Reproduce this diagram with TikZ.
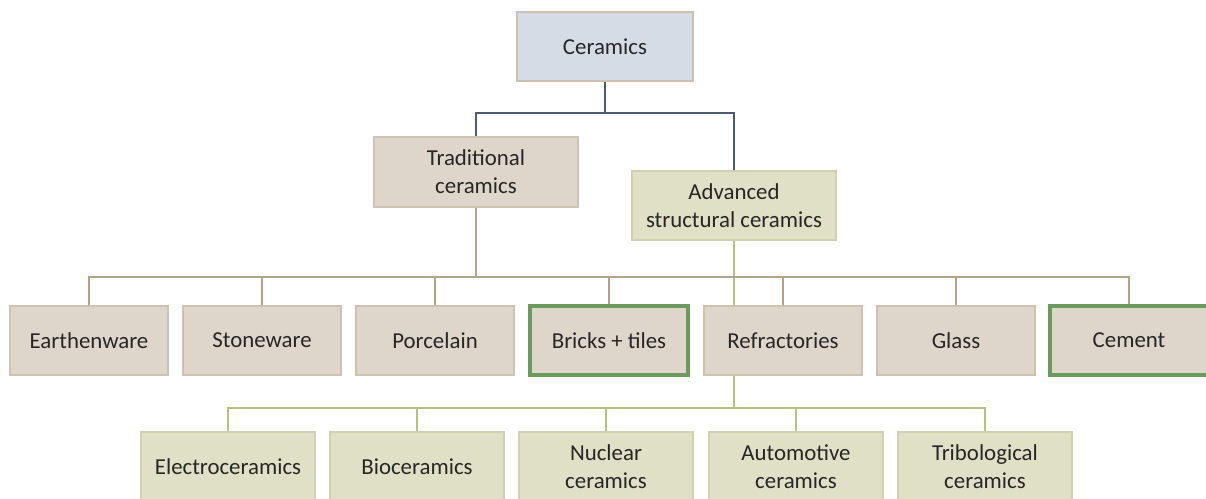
\documentclass[tikz,border=0pt]{standalone}
\usepackage{fontspec}
\setmainfont{Carlito}
\usetikzlibrary{backgrounds}
\definecolor{bluegrey}{HTML}{D6DCE5}
\definecolor{tanfill}{HTML}{DFD6CB}
\definecolor{tanline}{HTML}{CFC1AF}
\definecolor{olivefill}{HTML}{DFE0C6}
\definecolor{oliveline}{HTML}{D0D1AE}
\definecolor{darkline}{HTML}{4B5A77}
\definecolor{brownline}{HTML}{B5A28A}
\definecolor{greenline}{HTML}{B7C27E}
\definecolor{boldgreen}{HTML}{6B9B5C}

\begin{document}
\begin{tikzpicture}[x=0.02cm,y=-0.02cm,
  font=\fontsize{13}{16}\selectfont,
  box/.style={draw=tanline,line width=1pt,align=center,inner sep=0pt,text=black!85},
  topbox/.style={box,fill=bluegrey,minimum width=3.52cm,minimum height=1.38cm},
  tradbox/.style={box,fill=tanfill,minimum width=4.08cm,minimum height=1.4cm},
  advbox/.style={box,fill=olivefill,draw=oliveline,minimum width=4.08cm,minimum height=1.38cm},
  matbox/.style={box,fill=tanfill,minimum width=3.16cm,minimum height=1.38cm},
  keybox/.style={matbox,draw=boldgreen,line width=2.1pt},
  appbox/.style={box,fill=olivefill,draw=oliveline,minimum width=3.48cm,minimum height=1.4cm},
  darkconn/.style={draw=darkline,line width=0.9pt},
  brownconn/.style={draw=brownline,line width=0.9pt},
  greenconn/.style={draw=greenline,line width=0.9pt}]
  \useasboundingbox (0,0) rectangle (1206,499);
  \clip (0,0) rectangle (1206,499);

  % top levels
  \node[topbox] (cer) at (605,46.5) {Ceramics};
  \node[tradbox] (trad) at (476,172) {Traditional\\ceramics};
  \node[advbox] (adv) at (734,205.5) {Advanced\\structural ceramics};

  % traditional products
  \node[matbox] (earth) at (89,340.5) {Earthenware};
  \node[matbox] (stone) at (262,340.5) {Stoneware};
  \node[matbox] (porc) at (435,340.5) {Porcelain};
  \node[keybox] (brick) at (609,340.5) {Bricks + tiles};
  \node[matbox] (refr) at (783,340.5) {Refractories};
  \node[matbox] (glass) at (956,340.5) {Glass};
  \node[keybox] (cem) at (1129,340.5) {Cement};

  % advanced applications
  \node[appbox] (elec) at (228,467) {Electroceramics};
  \node[appbox] (bio) at (417,467) {Bioceramics};
  \node[appbox] (nucl) at (606,467) {Nuclear\\ceramics};
  \node[appbox] (auto) at (796,467) {Automotive\\ceramics};
  \node[appbox] (trib) at (985,467) {Tribological\\ceramics};

  \coordinate (j1) at (605,113);
  \coordinate (j2) at (476,277);
  \coordinate (j3) at (734,408);

  \begin{pgfonlayer}{background}
    \draw[greenconn] (adv.south) -- (j3);
    \foreach \n in {elec,bio,nucl,auto,trib}
      \draw[greenconn] (j3) -| (\n.north);
    \draw[brownconn] (trad.south) -- (j2);
    \foreach \n in {earth,stone,porc,brick,refr,glass,cem}
      \draw[brownconn] (j2) -| (\n.north);
    \draw[darkconn] (cer.south) -- (j1);
    \draw[darkconn] (j1) -| (trad.north);
    \draw[darkconn] (j1) -| (adv.north);
  \end{pgfonlayer}
\end{tikzpicture}
\end{document}
